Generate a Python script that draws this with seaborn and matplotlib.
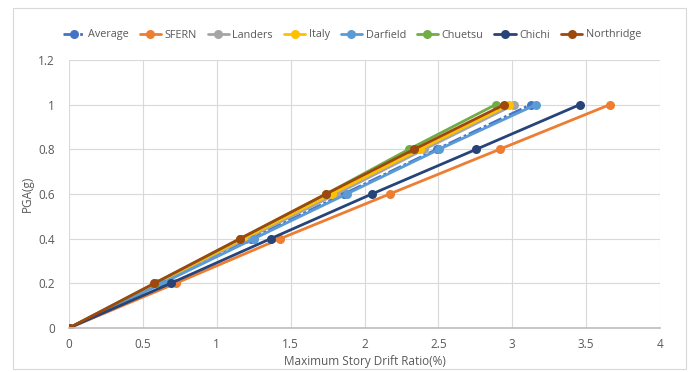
import matplotlib
matplotlib.use("Agg")
import matplotlib.pyplot as plt
import seaborn as sns
import pandas as pd
from matplotlib.patches import Rectangle

sns.set_theme(style="white")
plt.rcParams['font.family'] = ['Open Sans', 'DejaVu Sans']

pga = [0, 0.2, 0.4, 0.6, 0.8, 1.0]
average = [0, 0.62, 1.23, 1.86, 2.49, 3.126]
sfern = [0, 0.722, 1.43, 2.17, 2.914, 3.66]
landers = [0, 0.60, 1.20, 1.81, 2.404, 3.013]
italy = [0, 0.59, 1.18, 1.777, 2.375, 2.98]
darfield = [0, 0.63, 1.252, 1.879, 2.505, 3.16]
chuetsu = [0, 0.58, 1.16, 1.74, 2.30, 2.887]
chichi = [0, 0.688, 1.365, 2.05, 2.756, 3.457]
northridge = [0, 0.577, 1.157, 1.739, 2.336, 2.945]

series_names = ["Average", "SFERN", "Landers", "Italy", "Darfield", "Chuetsu", "Chichi", "Northridge"]
series_vals = [average, sfern, landers, italy, darfield, chuetsu, chichi, northridge]
colors = ["#4472C4", "#ED7D31", "#A5A5A5", "#FFC000", "#5B9BD5", "#70AD47", "#264478", "#9E480E"]

W, H = 691, 372
fig = plt.figure(figsize=(W / 100, H / 100), dpi=100)
ax = fig.add_axes([69 / W, 1 - 328 / H, (660 - 69) / W, (328 - 60) / H])

for name, vals, col in zip(series_names, series_vals, colors):
    df = pd.DataFrame({"drift": vals, "pga": pga})
    ls = (0, (5, 1, 1, 1)) if name == "Average" else "-"
    sns.lineplot(data=df, x="drift", y="pga", ax=ax, color=col, marker="o",
                 markersize=6.5, markeredgewidth=0, linewidth=2, linestyle=ls,
                 label=name, sort=False)

ax.set_xlim(0, 4)
ax.set_ylim(0, 1.2)
ax.set_xticks([0, 0.5, 1, 1.5, 2, 2.5, 3, 3.5, 4])
ax.set_xticklabels(["0", "0.5", "1", "1.5", "2", "2.5", "3", "3.5", "4"])
ax.set_yticks([0, 0.2, 0.4, 0.6, 0.8, 1.0, 1.2])
ax.set_yticklabels(["0", "0.2", "0.4", "0.6", "0.8", "1", "1.2"])
ax.grid(True, color="#D9D9D9", linewidth=0.8)
ax.set_axisbelow(True)
for s in ["top", "right", "left"]:
    ax.spines[s].set_visible(False)
ax.spines["bottom"].set_color("#BFBFBF")
ax.tick_params(axis="x", colors="#595959", labelsize=8.5, length=0, pad=7)
ax.tick_params(axis="y", colors="#595959", labelsize=8.5, length=0, pad=10)
ax.set_xlabel("Maximum Story Drift Ratio(%)", color="#595959", fontsize=8.5, labelpad=3)
ax.set_ylabel("PGA(g)", color="#595959", fontsize=8.5, labelpad=3)

ax.legend(loc="center", bbox_to_anchor=(352 / W, 1 - 35 / H), bbox_transform=fig.transFigure,
          ncol=8, frameon=False, fontsize=7.8, handlelength=2.0, handletextpad=0.3,
          columnspacing=1.0, labelcolor="#595959", borderpad=0)

fig.patches.append(Rectangle((13 / W, 1 - 369 / H), (686 - 13) / W, (369 - 8) / H,
                             transform=fig.transFigure, fill=False, edgecolor="#D9D9D9",
                             linewidth=0.8))

fig.savefig("out.png", dpi=100)
